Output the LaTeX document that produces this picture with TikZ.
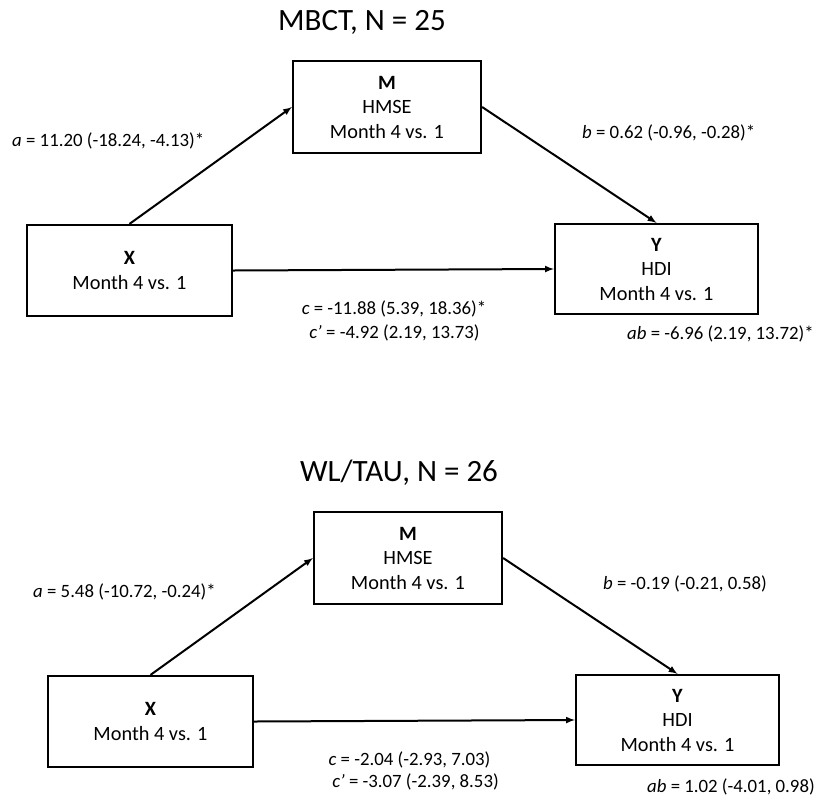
\documentclass[tikz,border=0pt]{standalone}
\usepackage{fontspec}
\setmainfont{Carlito}
\usetikzlibrary{arrows}

\begin{document}
\begin{tikzpicture}[x=1pt,y=-1pt]
\tikzset{box/.style={draw,line width=2.2pt,align=center,inner sep=0pt,font=\fontsize{20.3}{24.5}\selectfont}}
\tikzset{lab/.style={inner sep=0pt,font=\fontsize{18.8}{22}\selectfont}}
\tikzset{heading/.style={inner sep=0pt,font=\fontsize{31}{36}\selectfont}}
\tikzset{link/.style={->,>=latex,line width=2pt}}

\useasboundingbox (0,0) rectangle (818,801);

% MBCT
\node[heading] (titlembct) at (362,22) {MBCT, N = 25};
\node[box,minimum width=188pt,minimum height=92pt] (mmbct) at (387,107) {\textbf{M}\\HMSE\\Month 4 vs. 1};
\node[box,minimum width=205pt,minimum height=91pt] (xmbct) at (129.5,270.5) {\textbf{X}\\Month 4 vs. 1};
\node[box,minimum width=203pt,minimum height=90pt] (ymbct) at (656.5,269) {\textbf{Y}\\HDI\\Month 4 vs. 1};
\draw[link] (xmbct.north) -- (mmbct.west);
\draw[link] (mmbct.east) -- (ymbct.north);
\draw[link] (xmbct.east) -- (ymbct.west);
\node[lab,anchor=west] (ambct) at (12,141) {\textit{a} = 11.20 (-18.24, -4.13)*};
\node[lab,anchor=west] (bmbct) at (582,133) {\textit{b} = 0.62 (-0.96, -0.28)*};
\node[lab] (cmbct) at (394,309) {\textit{c} = -11.88 (5.39, 18.36)*};
\node[lab] (cpmbct) at (394.5,333) {\textit{c’} = -4.92 (2.19, 13.73)};
\node[lab,anchor=west] (abmbct) at (627,334) {\textit{ab} = -6.96 (2.19, 13.72)*};

% WL/TAU
\node[heading] (titlewl) at (399,473) {WL/TAU, N = 26};
\node[box,minimum width=188pt,minimum height=92pt] (mwl) at (408,558) {\textbf{M}\\HMSE\\Month 4 vs. 1};
\node[box,minimum width=205pt,minimum height=91pt] (xwl) at (150.5,721.5) {\textbf{X}\\Month 4 vs. 1};
\node[box,minimum width=203pt,minimum height=90pt] (ywl) at (677.5,720) {\textbf{Y}\\HDI\\Month 4 vs. 1};
\draw[link] (xwl.north) -- (mwl.west);
\draw[link] (mwl.east) -- (ywl.north);
\draw[link] (xwl.east) -- (ywl.west);
\node[lab,anchor=west] (awl) at (33,592) {\textit{a} = 5.48 (-10.72, -0.24)*};
\node[lab,anchor=west] (bwl) at (603,584) {\textit{b} = -0.19 (-0.21, 0.58)};
\node[lab] (cwl) at (409.5,760) {\textit{c} = -2.04 (-2.93, 7.03)};
\node[lab] (cpwl) at (415.5,782) {\textit{c’} = -3.07 (-2.39, 8.53)};
\node[lab,anchor=west] (abwl) at (647,787) {\textit{ab} = 1.02 (-4.01, 0.98)};

\end{tikzpicture}
\end{document}
